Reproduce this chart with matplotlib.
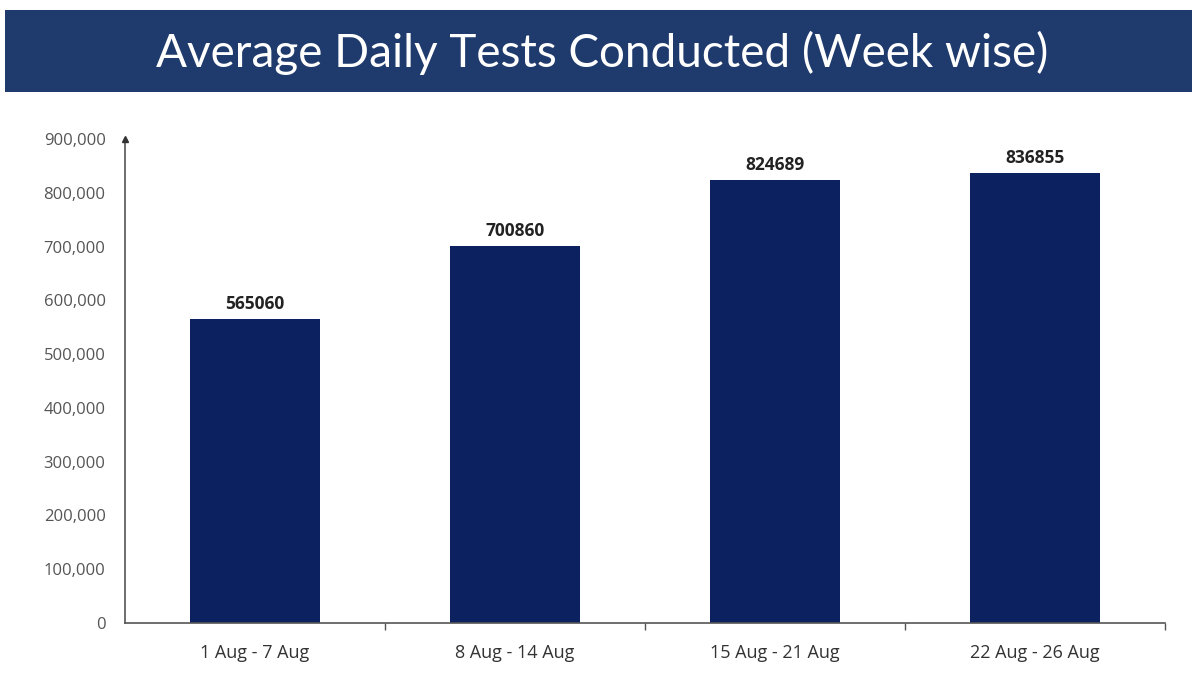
import matplotlib
matplotlib.use("Agg")
import matplotlib.pyplot as plt
from matplotlib.patches import Rectangle
from matplotlib.ticker import FuncFormatter, FixedLocator

categories = ["1 Aug - 7 Aug", "8 Aug - 14 Aug", "15 Aug - 21 Aug", "22 Aug - 26 Aug"]
values = [565060, 700860, 824689, 836855]
yticks = [0, 100000, 200000, 300000, 400000, 500000, 600000, 700000, 800000, 900000]
title = "Average Daily Tests Conducted (Week wise)"

W, H = 1192, 692
fig = plt.figure(figsize=(W / 100, H / 100), dpi=100)
fig.patch.set_facecolor("white")

# Title banner
fig.patches.append(Rectangle((5 / W, 1 - 92 / H), 1 - 5 / W, 82 / H,
                             transform=fig.transFigure, facecolor="#1f3a6c",
                             edgecolor="none", zorder=0))
fig.text(0.505, 1 - 53 / H, title, ha="center", va="center", color="white",
         fontsize=33, family="Lato")

ax = fig.add_axes([125 / W, 1 - 623 / H, (1165 - 125) / W, (623 - 139) / H])
x = list(range(len(categories)))
bars = ax.bar(x, values, width=0.5, color="#0b2160", zorder=2)
for xi, v in zip(x, values):
    ax.text(xi, v + 11000, str(v), ha="center", va="bottom", fontsize=12.5,
            fontweight="bold", color="#222222", family="Open Sans")

ax.set_xlim(-0.5, len(categories) - 0.5)
ax.set_ylim(0, 900000)
ax.set_yticks(yticks)
ax.yaxis.set_major_formatter(FuncFormatter(lambda v, p: f"{int(v):,}"))
ax.set_xticks(x)
ax.set_xticklabels(categories)
ax.xaxis.set_minor_locator(FixedLocator([0.5, 1.5, 2.5, 3.5]))
ax.tick_params(axis="x", which="major", length=0, pad=15, labelsize=13,
               labelcolor="#333333")
ax.tick_params(axis="x", which="minor", length=5, width=1, color="#555555",
               direction="out")
ax.tick_params(axis="y", length=0, pad=14, labelsize=12, labelcolor="#555555")
for lbl in ax.get_xticklabels() + ax.get_yticklabels():
    lbl.set_family("Open Sans")

for s in ["top", "right"]:
    ax.spines[s].set_visible(False)
for s in ["left", "bottom"]:
    ax.spines[s].set_color("#555555")
    ax.spines[s].set_linewidth(1.2)

# arrow at top of y axis
ax.plot([-0.5], [900000], marker="^", color="#333333", markersize=4,
        clip_on=False, zorder=3)

fig.savefig("out.png", dpi=100)
